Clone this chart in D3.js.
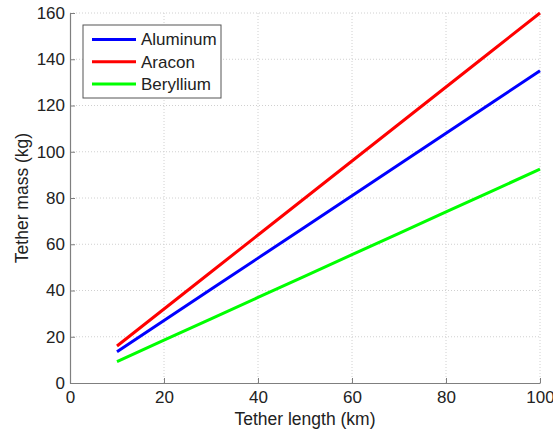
<!DOCTYPE html>
<html>
<head>
<meta charset="utf-8">
<script src="https://cdn.jsdelivr.net/npm/d3@7"></script>
<style>
  body { margin: 0; background: #fff; }
  svg { display: block; font-family: "Liberation Sans", Arial, sans-serif; }
</style>
</head>
<body>
<svg id="svg"></svg>
<script>
const width = 553, height = 431;

// data
const lengthKm = [10, 20, 30, 40, 50, 60, 70, 80, 90, 100];
const aluminum = [13.5, 27, 40.5, 54, 67.5, 81, 94.5, 108, 121.5, 135];
const aracon = [16, 32, 48, 64, 80, 96, 112, 128, 144, 160];
const beryllium = [9.2, 18.5, 27.7, 37, 46.2, 55.5, 64.7, 74, 83.2, 92.5];
const xTicks = [0, 20, 40, 60, 80, 100];
const yTicks = [0, 20, 40, 60, 80, 100, 120, 140, 160];

const series = [
    {name: "Aluminum", values: aluminum, color: "#0000ff"},
    {name: "Aracon", values: aracon, color: "#ff0000"},
    {name: "Beryllium", values: beryllium, color: "#00ff00"}
];

let margin = {top: 13, right: 13, bottom: 48, left: 70};
let plotW = width - margin.left - margin.right,
    plotH = height - margin.top - margin.bottom;

const svg = d3.select("#svg")
    .attr("width", width)
    .attr("height", height);

const g = svg.append("g")
    .attr("transform", `translate(${margin.left}, ${margin.top})`);

const x = d3.scaleLinear().domain([0, 100]).range([0, plotW]);
const y = d3.scaleLinear().domain([0, 160]).range([plotH, 0]);

// dotted grid
g.append("g")
    .selectAll("line")
    .data(xTicks.slice(1))
    .join("line")
    .attr("x1", d => x(d)).attr("x2", d => x(d))
    .attr("y1", 0).attr("y2", plotH)
    .attr("stroke", "#d0d0d0")
    .attr("stroke-dasharray", "1,2");

g.append("g")
    .selectAll("line")
    .data(yTicks.slice(1))
    .join("line")
    .attr("x1", 0).attr("x2", plotW)
    .attr("y1", d => y(d)).attr("y2", d => y(d))
    .attr("stroke", "#d0d0d0")
    .attr("stroke-dasharray", "1,2");

// axes, ticks pointing inward
const xAxis = g.append("g")
    .attr("transform", `translate(0, ${plotH})`)
    .call(d3.axisBottom(x).tickValues(xTicks).tickSizeInner(-5).tickSizeOuter(0).tickPadding(8));

const yAxis = g.append("g")
    .call(d3.axisLeft(y).tickValues(yTicks).tickSizeInner(-5).tickSizeOuter(0).tickPadding(5));

[xAxis, yAxis].forEach(a => {
    a.select(".domain").attr("stroke", "#7f7f7f").attr("stroke-width", 1.2);
    a.selectAll(".tick line").attr("stroke", "#7f7f7f");
    a.selectAll("text").attr("fill", "#222").style("font-size", "17px");
});

// lines
const line = d3.line()
    .x((d, i) => x(lengthKm[i]))
    .y(d => y(d));

g.append("g")
    .attr("fill", "none")
    .selectAll("path")
    .data(series)
    .join("path")
    .attr("d", d => line(d.values))
    .attr("stroke", d => d.color)
    .attr("stroke-width", 3);

// axis labels
svg.append("text")
    .attr("x", margin.left + plotW / 2)
    .attr("y", 425)
    .attr("text-anchor", "middle")
    .attr("fill", "#222")
    .style("font-size", "17.5px")
    .text("Tether length (km)");

svg.append("text")
    .attr("transform", `translate(28, ${margin.top + plotH / 2}) rotate(-90)`)
    .attr("text-anchor", "middle")
    .attr("fill", "#222")
    .style("font-size", "17.5px")
    .text("Tether mass (kg)");

// legend
const legend = svg.append("g").attr("transform", "translate(83, 25)");

legend.append("rect")
    .attr("width", 138)
    .attr("height", 73)
    .attr("fill", "#fff")
    .attr("stroke", "#555")
    .attr("stroke-width", 1);

const item = legend.selectAll("g.item")
    .data(series)
    .join("g")
    .attr("class", "item")
    .attr("transform", (d, i) => `translate(0, ${14.5 + i * 22.3})`);

item.append("line")
    .attr("x1", 9).attr("x2", 53)
    .attr("stroke", d => d.color)
    .attr("stroke-width", 3);

item.append("text")
    .attr("x", 58)
    .attr("dy", "0.35em")
    .attr("fill", "#222")
    .style("font-size", "17px")
    .text(d => d.name);
</script>
</body>
</html>
